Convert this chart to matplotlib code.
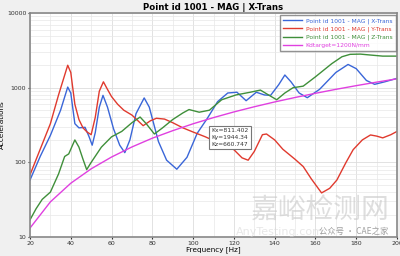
import numpy as np
import matplotlib.pyplot as plt
from matplotlib.ticker import FixedLocator, NullFormatter

# Frequency response values (Hz, accelerance)
x_freq = [20, 25, 30, 35, 38.5, 40, 42, 44, 47, 49, 50.5, 52, 54, 55.8, 58, 61, 64, 66.5,
          69, 72, 76, 78.5, 83, 87, 92, 97, 102, 107, 112, 117, 121.5, 126, 131, 135, 138,
          142, 145, 148, 152, 156, 162, 170, 176, 180, 185, 189, 194, 200]
x_mag = [58, 120, 230, 500, 1020, 850, 330, 290, 295, 220, 170, 250, 550, 790, 550, 280, 170, 135,
         200, 450, 730, 550, 190, 107, 81, 117, 245, 390, 650, 850, 870, 670, 870, 800, 790,
         1100, 1480, 1200, 850, 735, 950, 1600, 2050, 1800, 1250, 1110, 1200, 1335]

y_freq = [20, 25, 30, 34, 38.5, 40, 42, 44, 46, 48, 50, 52, 54, 56, 58, 60, 63, 66, 70, 73, 75.5,
          79, 82, 86, 90, 95, 100, 106, 112, 120, 124, 127, 130, 134, 136, 140, 144, 150, 154,
          158, 163, 167, 170.5, 175, 178.5, 183, 187, 190, 193, 197, 200]
y_mag = [68, 150, 330, 800, 2000, 1600, 600, 375, 290, 255, 235, 400, 900, 1200, 950, 760, 600,
         500, 430, 360, 310, 360, 390, 380, 340, 290, 255, 220, 185, 148, 115, 107, 140, 235, 240,
         200, 150, 110, 88, 60, 39, 45, 58, 100, 148, 200, 233, 225, 213, 235, 260]

z_freq = [20, 23, 26, 30, 34, 37, 39, 42, 44, 46, 47.8, 50, 55, 60, 65, 70, 74, 77, 81, 85, 90,
          95, 98, 103, 108, 114, 121, 128, 133, 137, 141, 145, 149, 154, 160, 168, 173, 177, 182,
          187, 193, 200]
z_mag = [17, 24, 32, 40, 70, 120, 130, 200, 160, 110, 80, 100, 160, 220, 260, 340, 405, 330, 240,
         290, 375, 460, 510, 470, 500, 690, 800, 870, 930, 800, 690, 850, 1000, 1050, 1400, 2100,
         2600, 2800, 2820, 2740, 2650, 2650]

k_freq = [20, 30, 40, 50, 60, 70, 80, 90, 100, 110, 120, 130, 140, 150, 160, 170, 180, 190, 200]
k_mag = [13.2, 29.6, 52.6, 82, 118, 161, 211, 266, 329, 398, 474, 556, 645, 740, 842, 951,
         1066, 1188, 1316]

x_ticks = [20, 40, 60, 80, 100, 120, 140, 160, 180, 200]
y_ticks = [10, 100, 1000, 10000]

fig = plt.figure(figsize=(4, 2.56), dpi=100, facecolor="#f0f0f0")
ax = fig.add_axes([0.075, 0.074, 0.9175, 0.875])

ax.plot(x_freq, x_mag, color="#3a66d8", lw=1.0, label="Point id 1001 - MAG | X-Trans")
ax.plot(y_freq, y_mag, color="#e03a2e", lw=1.0, label="Point id 1001 - MAG | Y-Trans")
ax.plot(z_freq, z_mag, color="#3f8f3a", lw=1.0, label="Point id 1001 - MAG | Z-Trans")
ax.plot(k_freq, k_mag, color="#e040e0", lw=1.0, label="Kdtarget=1200N/mm")

ax.set_yscale("log")
ax.set_xlim(20, 200)
ax.set_ylim(10, 10000)
ax.set_xticks(x_ticks)
ax.set_yticks(y_ticks)
ax.set_yticklabels([str(v) for v in y_ticks])
ax.xaxis.set_minor_locator(FixedLocator(np.arange(30, 200, 20)))
ax.xaxis.set_minor_formatter(NullFormatter())
ax.yaxis.set_minor_formatter(NullFormatter())
ax.tick_params(labelsize=4.5, length=1.5, colors="#333333", pad=1.2)
ax.tick_params(which="minor", length=0)
ax.grid(True, which="major", color="#dddddd", lw=0.6)
ax.grid(True, which="minor", color="#e8e8e8", lw=0.5)
for s in ax.spines.values():
    s.set_color("#888888")
    s.set_linewidth(1.2)

ax.set_title("Point id 1001 - MAG | X-Trans", fontsize=6.2, fontweight="bold", pad=2)
ax.set_xlabel("Frequency [Hz]", fontsize=5.2, labelpad=0.5)
ax.set_ylabel("Accelerations", fontsize=5.2, labelpad=1.5)

leg = ax.legend(loc="upper right", fontsize=4.3, frameon=True, fancybox=False,
                borderpad=0.55, handlelength=3.2, handletextpad=0.6, labelspacing=0.45,
                borderaxespad=0.25)
leg.get_frame().set_edgecolor("#777777")
leg.get_frame().set_linewidth(1.0)
for txt, ln in zip(leg.get_texts(), leg.get_lines()):
    txt.set_color(ln.get_color())

ax.text(109, 290, "Kx=811.402\nKy=1944.34\nKz=660.747", fontsize=4.3, color="#333333",
        va="top", ha="left", linespacing=1.5,
        bbox=dict(boxstyle="square,pad=0.35", fc="white", ec="#777777", lw=0.8))

# watermark
fig.text(0.80, 0.18, "嘉峪检测网", fontsize=20, color="#c8c8c8", alpha=0.6,
         ha="center", va="center", family=["Noto Sans CJK SC", "DejaVu Sans"])
fig.text(0.70, 0.095, "AnyTesting.com", fontsize=8, color="#d8d8d8", alpha=0.6,
         ha="center", va="center")
fig.text(0.885, 0.095, "公众号 · CAE之家", fontsize=6, color="#888888", alpha=0.8,
         ha="center", va="center", family=["Noto Sans CJK SC", "DejaVu Sans"])

fig.savefig("out.png", dpi=100, facecolor=fig.get_facecolor())
